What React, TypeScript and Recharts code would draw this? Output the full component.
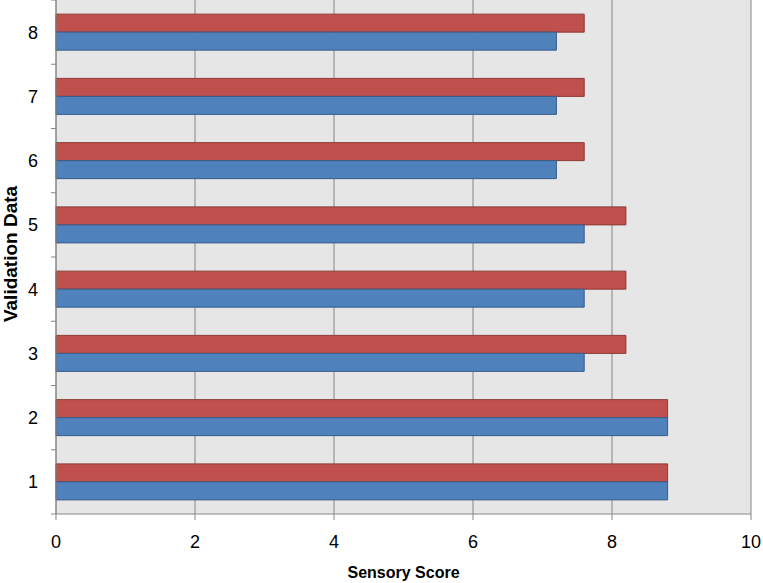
import { BarChart, Bar, XAxis, YAxis, CartesianGrid } from 'recharts';

const categories = ['1', '2', '3', '4', '5', '6', '7', '8'];
const redValues = [8.8, 8.8, 8.2, 8.2, 8.2, 7.6, 7.6, 7.6];
const blueValues = [8.8, 8.8, 7.6, 7.6, 7.6, 7.2, 7.2, 7.2];
const xTicks = [0, 2, 4, 6, 8, 10];

const data = categories.map((cat, i) => ({
    cat,
    red: redValues[i],
    blue: blueValues[i],
}));

const font = '"Liberation Sans", Arial, sans-serif';
const axisGray = '#868686';
const Y_TICK_MARGIN = 18;

// category tick: label at band centre, Excel-style tick marks at band edges
const CatTick = (props: any) => {
    const { x, y, payload, index, height } = props;
    const off = payload && payload.offset > 0 ? payload.offset : (height || 514) / categories.length / 2;
    const axisX = x + Y_TICK_MARGIN;
    return (
        <g>
            <line x1={axisX - 5} x2={axisX} y1={y - off} y2={y - off} stroke={axisGray} />
            {index === 0 && (
                <line x1={axisX - 5} x2={axisX} y1={y + off} y2={y + off} stroke={axisGray} />
            )}
            <text
                x={x}
                y={y}
                dy='0.355em'
                textAnchor='end'
                fontSize={18}
                fontFamily={font}
                fill='#000'
            >
                {payload.value}
            </text>
        </g>
    );
};

const YLabel = (props: any) => {
    const vb = props.viewBox || {};
    const cy = (vb.y ?? 0) + (vb.height ?? 0) / 2 - 3;
    return (
        <text
            x={0}
            y={0}
            transform={`translate(10, ${cy}) rotate(-90)`}
            textAnchor='middle'
            dominantBaseline='central'
            fontFamily={font}
            fontWeight='bold'
            fontSize={19}
            fill='#000'
        >
            Validation Data
        </text>
    );
};

const App = () => {
    return (
        <div style={{ position: 'absolute', left: 0, top: 0, background: '#fff' }}>
            <BarChart
                width={763}
                height={583}
                data={data}
                layout='vertical'
                margin={{ top: 0, right: 12, bottom: 0, left: 0 }}
                barGap={0}
                barCategoryGap='22%'
            >
                <CartesianGrid
                    horizontal={false}
                    stroke={axisGray}
                    strokeWidth={1}
                    fill='#e6e6e6'
                    fillOpacity={1}
                />
                <YAxis
                    dataKey='cat'
                    type='category'
                    reversed
                    width={56}
                    tickLine={false}
                    tickSize={0}
                    tickMargin={Y_TICK_MARGIN}
                    axisLine={{ stroke: axisGray }}
                    tick={<CatTick />}
                    label={<YLabel />}
                />
                <XAxis
                    type='number'
                    domain={[0, 10]}
                    ticks={xTicks}
                    height={69}
                    tickSize={6}
                    tickMargin={15}
                    tickLine={{ stroke: axisGray }}
                    axisLine={{ stroke: axisGray }}
                    tick={{ fontSize: 18, fill: '#000', fontFamily: font }}
                    label={{
                        value: 'Sensory Score',
                        position: 'insideBottom',
                        offset: 5,
                        fontSize: 16,
                        fontWeight: 'bold',
                        fill: '#000',
                        fontFamily: font,
                    }}
                />
                <Bar dataKey='red' fill='#C0504D' stroke='#8C3836' strokeWidth={1} isAnimationActive={false} />
                <Bar dataKey='blue' fill='#4F81BD' stroke='#385D8A' strokeWidth={1} isAnimationActive={false} />
            </BarChart>
        </div>
    );
};

export default App;
